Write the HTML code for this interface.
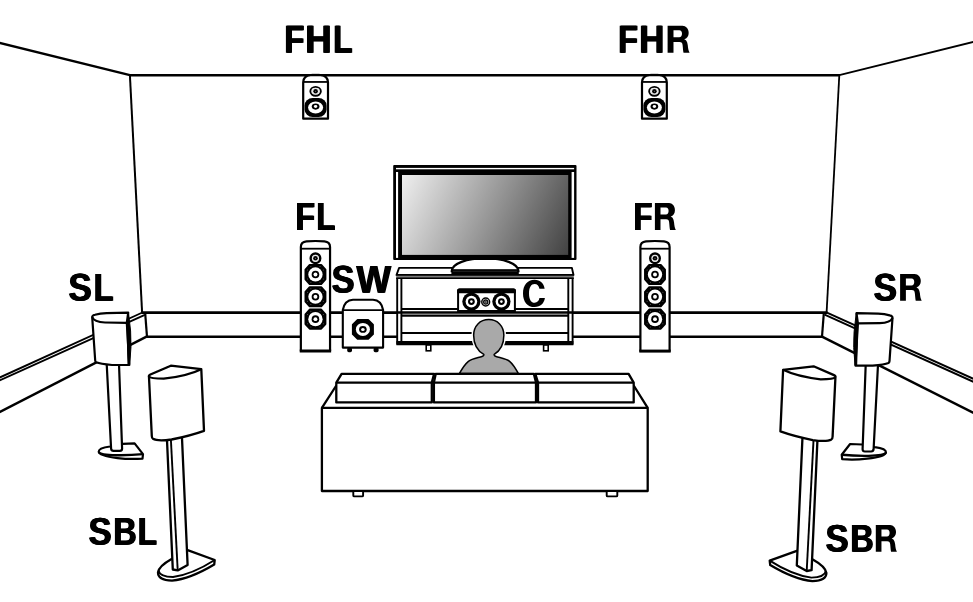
<!DOCTYPE html>
<html>
<head>
<meta charset="utf-8">
<title>Speaker layout</title>
<style>
html,body{margin:0;padding:0;background:#fff;}
body{width:973px;height:602px;overflow:hidden;}
svg{display:block;}
text{font-family:"Liberation Sans",sans-serif;font-weight:bold;font-size:36.5px;fill:#000;}
</style>
</head>
<body>
<svg width="973" height="602" viewBox="0 0 973 602">
<defs>
  <linearGradient id="scr" gradientUnits="userSpaceOnUse" x1="402" y1="175" x2="576.3" y2="257.7">
    <stop offset="0" stop-color="#efefef"/>
    <stop offset="0.5" stop-color="#969696"/>
    <stop offset="1" stop-color="#3a3a3a"/>
  </linearGradient>
  <!-- tower woofer -->
  <g id="wf">
    <polygon points="-5.74,-9.55 5.74,-9.55 9.95,-4.84 9.95,4.84 5.74,9.55 -5.74,9.55 -9.95,4.84 -9.95,-4.84" fill="#000" stroke="#000" stroke-width="2" stroke-linejoin="round"/>
    <circle cx="7.88" cy="4.55" r="0.5" fill="#6a6a6a"/><circle cx="4.55" cy="7.88" r="0.5" fill="#6a6a6a"/><circle cx="-4.55" cy="7.88" r="0.5" fill="#6a6a6a"/><circle cx="-7.88" cy="4.55" r="0.5" fill="#6a6a6a"/><circle cx="-7.88" cy="-4.55" r="0.5" fill="#6a6a6a"/><circle cx="-4.55" cy="-7.88" r="0.5" fill="#6a6a6a"/><circle cx="4.55" cy="-7.88" r="0.5" fill="#6a6a6a"/><circle cx="7.88" cy="-4.55" r="0.5" fill="#6a6a6a"/>
    <circle r="7.15" fill="#fff"/>
    <circle r="3.8" fill="#000"/>
    <circle r="1.95" fill="#fff"/>
  </g>
  <!-- tower tweeter -->
  <g id="tw">
    <circle r="4.8" fill="#fff" stroke="#000" stroke-width="2.4"/>
    <circle r="3" fill="none" stroke="#c4c4c4" stroke-width="0.5"/>
    <circle r="2.3" fill="#000"/>
    <circle r="0.55" fill="#8a8a8a"/>
  </g>
  <!-- tower speaker: origin at centre-x, top y -->
  <g id="tower">
    <path d="M-14.6,110.6 V6.5 Q-14.6,1.5 -9,1 Q0,0.2 9,1 Q14.6,1.5 14.6,6.5 V110.6 Z" fill="#fff" stroke="#000" stroke-width="2.2" stroke-linejoin="round"/>
    <line x1="-15.7" y1="110.7" x2="15.7" y2="110.7" stroke="#000" stroke-width="3"/>
    <line x1="-14.6" y1="8.3" x2="14.6" y2="8.3" stroke="#000" stroke-width="1.8"/>
    <use href="#tw" x="0" y="17.9"/>
    <use href="#wf" x="0" y="34.05"/>
    <use href="#wf" x="0" y="56.3"/>
    <use href="#wf" x="0" y="78.75"/>
  </g>
  <!-- height speaker: origin at centre-x, y of ceiling line -->
  <g id="hs">
    <path d="M-4,-1.6 H4" stroke="#c9c9c9" stroke-width="1" fill="none"/>
    <path d="M-12.4,43.4 V7 Q-12.2,0.4 -5,-0.2 H5 Q12.2,0.4 12.4,7 V43.4 Z" fill="#fff" stroke="#000" stroke-width="2.2" stroke-linejoin="round"/>
    <line x1="-12.4" y1="6.65" x2="12.4" y2="6.65" stroke="#000" stroke-width="1.8"/>
    <ellipse cx="0" cy="16" rx="5.25" ry="4.4" fill="#fff" stroke="#000" stroke-width="1.9"/>
    <ellipse cx="0" cy="16" rx="3.3" ry="2.95" fill="none" stroke="#c4c4c4" stroke-width="0.5"/>
    <ellipse cx="0" cy="16" rx="2.3" ry="2.2" fill="#000"/>
    <circle cx="0" cy="16" r="0.5" fill="#8a8a8a"/>
    <rect x="-11" y="22.7" width="22" height="18.9" rx="8" ry="7.4" fill="#000"/>
    <ellipse cx="0" cy="32.2" rx="7.5" ry="6" fill="#fff"/>
    <ellipse cx="0" cy="31.3" rx="3.85" ry="3.05" fill="#000"/>
    <ellipse cx="0" cy="31.2" rx="1.7" ry="1.4" fill="#fff"/>
  </g>
</defs>

<rect width="973" height="602" fill="#fff"/>

<!-- ROOM -->
<g fill="none" stroke="#000" stroke-linecap="butt" stroke-linejoin="miter">
  <path d="M-2,42.5 L129.9,75.2" stroke-width="2.3"/>
  <path d="M129,75.3 H840" stroke-width="2.5"/>
  <path d="M839.3,75.2 L975,41.4" stroke-width="1.9"/>
  <path d="M129.9,75.2 L142.1,312.5" stroke-width="2"/>
  <path d="M839.3,75.2 L826.6,312.5" stroke-width="1.8"/>
  <!-- back baseboard -->
  <path d="M141.4,312.6 H827.4" stroke-width="2.7"/>
  <path d="M146.6,336.7 H822.6" stroke-width="2.4"/>
  <path d="M145.2,313.4 L147,336.8" stroke-width="2.2"/>
  <path d="M823.8,313.4 L822,336.8" stroke-width="2.2"/>
  <!-- side baseboards -->
  <path d="M147,336.4 L-2,413" stroke-width="2.4"/>
  <path d="M822,336.6 L975,413.6" stroke-width="2.4"/>
  <path d="M142.4,312.5 L-2,378.3" stroke-width="1.9"/>
  <path d="M144.8,314.9 L-2,381.2" stroke-width="1.9"/>
  <path d="M826.4,312.3 L975,379.5" stroke-width="1.9"/>
  <path d="M824.6,314.6 L975,382.5" stroke-width="1.9"/>
</g>

<!-- HEIGHT SPEAKERS -->
<use href="#hs" x="315.6" y="75.3"/>
<use href="#hs" x="654.4" y="75.3"/>

<!-- CABINET -->
<g fill="none" stroke="#000">
  <rect x="397" y="276" width="175.6" height="68" fill="#fff" stroke="none"/>
  <path d="M399.1,267.9 H571.9 L573.5,275 H396.5 Z" fill="#fff" stroke-width="1.9" stroke-linejoin="round"/>
  <path d="M396.2,276.55 H573.8" stroke="#7a7a7a" stroke-width="1.4"/>
  <path d="M396.2,278.1 H573.8" stroke-width="1.8"/>
  <path d="M397.2,278 V344.6 M401.4,278 V344.6" stroke-width="1.9"/>
  <path d="M572.6,278 V344.6 M568.3,278 V344.6" stroke-width="1.9"/>
  <path d="M401.4,309 H568.3" stroke-width="2"/>
  <path d="M397.2,312.5 H572.6" stroke-width="2.3"/>
  <path d="M401.4,315.6 H568.3" stroke-width="2.2"/>
  <path d="M401.4,333.1 H568.3" stroke-width="2"/>
  <path d="M396.4,343.1 H573.4" stroke-width="4.2"/>
  <rect x="426.2" y="345" width="4.6" height="5.8" fill="#fff" stroke-width="1.6"/>
  <rect x="543.6" y="345" width="4.6" height="5.8" fill="#fff" stroke-width="1.6"/>
</g>

<!-- TV STAND -->
<g>
  <path d="M451.8,271 A33.3,12.9 0 0 1 518.4,271 Z" fill="#fff" stroke="#000" stroke-width="2.3"/>
  <rect x="451.4" y="269.2" width="67.4" height="5.9" rx="1.2" fill="#000"/>
  <rect x="453" y="270.9" width="64" height="0.5" fill="#4a4a4a"/>
</g>

<!-- TV -->
<g>
  <rect x="393.2" y="165" width="183.3" height="95.1" rx="1" fill="#000"/>
  <rect x="396" y="167.9" width="178.1" height="1.4" fill="#fff"/>
  <rect x="396" y="172" width="2.1" height="85.9" fill="#fff"/>
  <rect x="571.6" y="172" width="2.5" height="85.9" fill="#fff"/>
  <rect x="402" y="175" width="166.2" height="79.9" fill="url(#scr)"/>
</g>

<!-- CENTER SPEAKER -->
<g>
  <path d="M458.1,311 V291 Q458.1,289.6 459.6,289.6 H513.4 Q514.9,289.6 514.9,291 V311 Z" fill="#fff" stroke="#000" stroke-width="2"/>
  <path d="M457.1,293.2 V290.6 Q457.1,288.6 459.1,288.6 H513.9 Q515.9,288.6 515.9,290.6 V293.2 Z" fill="#000"/>
  <g transform="translate(471.4,301.6)"><circle r="9.1" fill="#000"/><circle r="5.8" fill="#fff"/><circle r="3.4" fill="#000"/><circle r="1.3" fill="#fff"/></g>
  <g transform="translate(501.4,301.6)"><circle r="9.1" fill="#000"/><circle r="5.8" fill="#fff"/><circle r="3.4" fill="#000"/><circle r="1.3" fill="#fff"/></g>
  <g transform="translate(485.7,302)"><circle r="3.9" fill="#fff" stroke="#000" stroke-width="1.5"/><circle r="2.1" fill="#8a8a8a" stroke="#000" stroke-width="1.1"/><rect x="-0.8" y="-0.8" width="1.6" height="1.6" fill="#444"/></g>
</g>

<!-- FRONT TOWERS -->
<use href="#tower" x="315.45" y="240.4"/>
<use href="#tower" x="655" y="240.4"/>

<!-- SUBWOOFER -->
<g>
  <path d="M342.8,347.6 V310 Q344.6,300.2 353,299.8 H373 Q381.3,300.2 383.1,310 V347.6 Z" fill="#fff" stroke="#000" stroke-width="2.1" stroke-linejoin="round"/>
  <line x1="342.8" y1="310.1" x2="383.1" y2="310.1" stroke="#000" stroke-width="1.9"/>
  <rect x="347.2" y="347.4" width="4.8" height="4.8" rx="1.6" fill="#000"/>
  <rect x="373.6" y="347.4" width="5" height="4.8" rx="1.6" fill="#000"/>
  <g transform="translate(362.9,329.4)">
    <polygon points="-5.19,-9.35 5.19,-9.35 10.00,-4.74 10.00,4.74 5.19,9.35 -5.19,9.35 -10.00,4.74 -10.00,-4.74" fill="#000" stroke="#000" stroke-width="2" stroke-linejoin="round"/>
    <ellipse rx="7.05" ry="6.5" fill="#fff"/>
    <ellipse rx="3.8" ry="3.35" fill="#000"/>
    <ellipse rx="1.8" ry="1.5" fill="#fff"/>
  </g>
</g>

<!-- PERSON -->
<g>
  <path d="M459.3,373.6 C461.6,369.5 464.4,364.6 468.4,361.3 C472,358.6 478,357.8 482,356.5 Q484.2,355.8 483.8,354.4 C477,350.5 473.65,343 473.65,335.2 C473.65,326 480,319.55 488.75,319.55 C497.5,319.55 503.85,326 503.85,335.2 C503.85,343 500.5,350.5 494.2,354.4 Q493.8,355.8 496,356.5 C500,357.8 506,358.6 509.6,361.3 C513.6,364.6 516.2,369.5 518.4,373.6 Z" fill="#a9a9a9" stroke="#fff" stroke-width="4.3" stroke-linejoin="round"/>
  <path d="M459.3,373.6 C461.6,369.5 464.4,364.6 468.4,361.3 C472,358.6 478,357.8 482,356.5 Q484.2,355.8 483.8,354.4 C477,350.5 473.65,343 473.65,335.2 C473.65,326 480,319.55 488.75,319.55 C497.5,319.55 503.85,326 503.85,335.2 C503.85,343 500.5,350.5 494.2,354.4 Q493.8,355.8 496,356.5 C500,357.8 506,358.6 509.6,361.3 C513.6,364.6 516.2,369.5 518.4,373.6 Z" fill="#a9a9a9" stroke="#000" stroke-width="1.5" stroke-linejoin="round"/>
</g>

<!-- SOFA -->
<g fill="#fff" stroke="#000" stroke-width="2.3" stroke-linejoin="round">
  <path d="M321.9,407.9 L336.3,385.5 M647.7,407.9 L633.7,385.5" fill="none"/>
  <path d="M336.3,382.6 L341.6,373.9 H434.1 L431.8,382.6 V402.4 H336.3 Z"/>
  <path d="M633.7,382.6 L628.6,373.9 H535.3 L538,382.6 V402.4 H633.7 Z"/>
  <path d="M433.9,382.6 L435.7,373.9 H533.9 L536,382.6 V402.4 H433.9 Z"/>
  <path d="M336.3,382.6 H633.7" fill="none"/>
  <rect x="321.9" y="407.9" width="325.8" height="83.1"/>
  <rect x="353.3" y="491" width="9.8" height="5.4" rx="1" stroke-width="1.9"/>
  <rect x="606.7" y="491" width="10.6" height="5.4" rx="1" stroke-width="1.9"/>
</g>

<!-- SL -->
<g stroke="#000" stroke-width="2.2" stroke-linejoin="round" fill="#fff">
  <path d="M110,446.5 L122.5,443.9 L134.6,443.4 L143,454.1 L142.5,458.6 Q130,459.5 117.6,458.1 C108,457 98.9,455 98.7,451.8 C98.6,449 103.5,447.3 110,446.5 Z"/>
  <path d="M98.9,452.3 C101,454.2 110,455.3 120.4,455.3 Q132,455.2 143,454.1" fill="none" stroke-width="2.4"/>
  <path d="M106.7,364 L111.1,448.6 Q111.3,450.8 113.6,450.9 H119.8 Q122,450.8 122.1,448.6 L119,364 Z"/>
  <path d="M92.2,317.2 Q92,315.6 95,314.8 Q100,313.3 106.6,313.1 L128.2,312.6 L126.8,322.8 L129.3,365 L112,365 Q100,364 96.3,362.3 Q95.3,361.8 95.2,360.5 Z"/>
  <path d="M92.2,317.2 C93.5,320.5 98.5,322.3 105,322.5 L126.8,322.8" fill="none"/>
  <path d="M128.5,312.8 L126.9,322.8 L128,364.6 L129.7,364.6 Q131.8,346 130.6,331 Z" fill="#000" stroke-width="1"/>
</g>

<!-- SR -->
<g stroke="#000" stroke-width="2.2" stroke-linejoin="round" fill="#fff" transform="translate(984.7,0.6) scale(-1,1)">
  <path d="M110,446.5 L122.5,443.9 L134.6,443.4 L143,454.1 L142.5,458.6 Q130,459.5 117.6,458.1 C108,457 98.9,455 98.7,451.8 C98.6,449 103.5,447.3 110,446.5 Z"/>
  <path d="M98.9,452.3 C101,454.2 110,455.3 120.4,455.3 Q132,455.2 143,454.1" fill="none" stroke-width="2.4"/>
  <path d="M106.7,364 L111.1,448.6 Q111.3,450.8 113.6,450.9 H119.8 Q122,450.8 122.1,448.6 L119,364 Z"/>
  <path d="M92.2,317.2 Q92,315.6 95,314.8 Q100,313.3 106.6,313.1 L128.2,312.6 L126.8,322.8 L129.3,365 L112,365 Q100,364 96.3,362.3 Q95.3,361.8 95.2,360.5 Z"/>
  <path d="M92.2,317.2 C93.5,320.5 98.5,322.3 105,322.5 L126.8,322.8" fill="none"/>
  <path d="M128.5,312.8 L126.9,322.8 L128,364.6 L129.7,364.6 Q131.8,346 130.6,331 Z" fill="#000" stroke-width="1"/>
</g>

<!-- SBL -->
<g stroke="#000" stroke-width="2.3" stroke-linejoin="round" fill="#fff">
  <path d="M158,572.4 Q159,566 171.2,559.2 L187.6,550.2 L214.7,560 L214.2,564.5 Q190,579 172,580.6 Q158,580 158,572.4 Z"/>
  <path d="M158.4,570.5 Q160,577 173,577 Q192,574.5 214.7,560" fill="none" stroke-width="1.9"/>
  <path d="M166.9,438 L172.8,569.5 L177.7,570.4 L187.6,565 L181.9,436 Z"/>
  <path d="M170.8,438 L177.7,570.4" fill="none" stroke-width="1.9"/>
  <path d="M149,377.2 Q148.4,375.4 150.4,374.5 L170.8,365.7 L201.3,369.2 L204,430.8 Q190.6,435.6 171.6,439.5 Q157.4,441.5 153,438.8 Q151.8,438 151.8,436 Z"/>
  <path d="M149,376.6 Q150.5,378.6 163.7,378.7 Q187.4,376 201.3,369.2" fill="none"/>
</g>

<!-- SBR -->
<g stroke="#000" stroke-width="2.3" stroke-linejoin="round" fill="#fff" transform="translate(984.4,0.6) scale(-1,1)">
  <path d="M158,572.4 Q159,566 171.2,559.2 L187.6,550.2 L214.7,560 L214.2,564.5 Q190,579 172,580.6 Q158,580 158,572.4 Z"/>
  <path d="M158.4,570.5 Q160,577 173,577 Q192,574.5 214.7,560" fill="none" stroke-width="1.9"/>
  <path d="M166.9,438 L172.8,569.5 L177.7,570.4 L187.6,565 L181.9,436 Z"/>
  <path d="M170.8,438 L177.7,570.4" fill="none" stroke-width="1.9"/>
  <path d="M149,377.2 Q148.4,375.4 150.4,374.5 L170.8,365.7 L201.3,369.2 L204,430.8 Q190.6,435.6 171.6,439.5 Q157.4,441.5 153,438.8 Q151.8,438 151.8,436 Z"/>
  <path d="M149,376.6 Q150.5,378.6 163.7,378.7 Q187.4,376 201.3,369.2" fill="none"/>
</g>

<!-- LABELS -->
<defs>
<path id="gF" d="M432 1181V745H1153V517H432V0H137V1409H1176V1181Z"/>
<path id="gH" d="M1046 0V604H432V0H137V1409H432V848H1046V1409H1341V0Z"/>
<path id="gL" d="M137 0V1409H432V228H1188V0Z"/>
<path id="gS" d="M1286 406Q1286 199 1132.5 89.5Q979 -20 682 -20Q411 -20 257.0 76.0Q103 172 59 367L344 414Q373 302 457.0 251.5Q541 201 690 201Q999 201 999 389Q999 449 963.5 488.0Q928 527 863.5 553.0Q799 579 616 616Q458 653 396.0 675.5Q334 698 284.0 728.5Q234 759 199.0 802.0Q164 845 144.5 903.0Q125 961 125 1036Q125 1227 268.5 1328.5Q412 1430 686 1430Q948 1430 1079.5 1348.0Q1211 1266 1249 1077L963 1038Q941 1129 873.5 1175.0Q806 1221 680 1221Q412 1221 412 1053Q412 998 440.5 963.0Q469 928 525.0 903.5Q581 879 752 842Q955 799 1042.5 762.5Q1130 726 1181.0 677.5Q1232 629 1259.0 561.5Q1286 494 1286 406Z"/>
<path id="gW" d="M1567 0H1217L1026 815Q991 959 967 1116Q943 985 928.0 916.5Q913 848 715 0H365L2 1409H301L505 499L551 279Q579 418 605.5 544.5Q632 671 805 1409H1135L1313 659Q1334 575 1384 279L1409 395L1462 625L1632 1409H1931Z"/>
<path id="gB" d="M1386 402Q1386 210 1242.0 105.0Q1098 0 842 0H137V1409H782Q1040 1409 1172.5 1319.5Q1305 1230 1305 1055Q1305 935 1238.5 852.5Q1172 770 1036 741Q1207 721 1296.5 633.5Q1386 546 1386 402ZM1008 1015Q1008 1110 947.5 1150.0Q887 1190 768 1190H432V841H770Q895 841 951.5 884.5Q1008 928 1008 1015ZM1090 425Q1090 623 806 623H432V219H817Q959 219 1024.5 270.5Q1090 322 1090 425Z"/>
<path id="gC" d="M395,165 L300,165 C290,115 260,80 212,80 C150,80 110,140 110,250 C110,360 150,420 212,420 C262,420 292,385 300,335 L400,335 C385,430 320,500 212,500 C80,500 0,400 0,250 C0,100 80,0 212,0 C315,0 380,65 395,165 Z"/>
<path id="gR" fill-rule="evenodd" d="M0,0 H245 C300,0 347,50 347,122 C347,175 320,215 272,232 C305,245 322,262 332,332 C336,380 342,420 362,460 H262 C255,430 252,380 247,332 C243,295 232,277 195,277 H97 V460 H0 Z M97,77 V197 H190 C222,197 237,170 237,137 C237,100 222,77 192,77 Z"/>
</defs>
<g id="labels" fill="#000">
<use href="#gF" transform="matrix(0.01598,0,0,-0.01909,283.71,52.70)"/>
<use href="#gF" transform="matrix(0.01598,0,0,-0.01909,284.41,52.70)"/>
<use href="#gF" transform="matrix(0.01598,0,0,-0.01909,285.11,52.70)"/>
<use href="#gH" transform="matrix(0.01786,0,0,-0.01909,304.55,52.70)"/>
<use href="#gH" transform="matrix(0.01786,0,0,-0.01909,305.25,52.70)"/>
<use href="#gH" transform="matrix(0.01786,0,0,-0.01909,305.95,52.70)"/>
<use href="#gL" transform="matrix(0.01532,0,0,-0.01909,332.60,52.70)"/>
<use href="#gL" transform="matrix(0.01532,0,0,-0.01909,333.30,52.70)"/>
<use href="#gL" transform="matrix(0.01532,0,0,-0.01909,334.00,52.70)"/>
<use href="#gF" transform="matrix(0.01578,0,0,-0.01909,617.54,52.70)"/>
<use href="#gF" transform="matrix(0.01578,0,0,-0.01909,618.24,52.70)"/>
<use href="#gF" transform="matrix(0.01578,0,0,-0.01909,618.94,52.70)"/>
<use href="#gH" transform="matrix(0.01694,0,0,-0.01909,638.58,52.70)"/>
<use href="#gH" transform="matrix(0.01694,0,0,-0.01909,639.28,52.70)"/>
<use href="#gH" transform="matrix(0.01694,0,0,-0.01909,639.98,52.70)"/>
<use href="#gR" transform="matrix(0.06077,0,0,0.05848,667.60,25.80)"/>
<use href="#gF" transform="matrix(0.01550,0,0,-0.01909,294.88,229.90)"/>
<use href="#gF" transform="matrix(0.01550,0,0,-0.01909,295.58,229.90)"/>
<use href="#gF" transform="matrix(0.01550,0,0,-0.01909,296.28,229.90)"/>
<use href="#gL" transform="matrix(0.01494,0,0,-0.01909,315.85,229.90)"/>
<use href="#gL" transform="matrix(0.01494,0,0,-0.01909,316.55,229.90)"/>
<use href="#gL" transform="matrix(0.01494,0,0,-0.01909,317.25,229.90)"/>
<use href="#gF" transform="matrix(0.01492,0,0,-0.01909,632.96,229.90)"/>
<use href="#gF" transform="matrix(0.01492,0,0,-0.01909,633.66,229.90)"/>
<use href="#gF" transform="matrix(0.01492,0,0,-0.01909,634.36,229.90)"/>
<use href="#gR" transform="matrix(0.05773,0,0,0.05848,654.90,203.00)"/>
<use href="#gS" transform="matrix(0.01671,0,0,-0.01890,331.01,292.62)"/>
<use href="#gS" transform="matrix(0.01671,0,0,-0.01890,331.71,292.62)"/>
<use href="#gS" transform="matrix(0.01671,0,0,-0.01890,332.41,292.62)"/>
<use href="#gW" transform="matrix(0.01783,0,0,-0.01888,355.86,292.70)"/>
<use href="#gW" transform="matrix(0.01783,0,0,-0.01888,356.56,292.70)"/>
<use href="#gW" transform="matrix(0.01783,0,0,-0.01888,357.26,292.70)"/>
<use href="#gC" transform="matrix(0.05475,0,0,0.05480,523.00,279.70)"/>
<use href="#gS" transform="matrix(0.01703,0,0,-0.01897,67.80,300.72)"/>
<use href="#gS" transform="matrix(0.01703,0,0,-0.01897,68.50,300.72)"/>
<use href="#gS" transform="matrix(0.01703,0,0,-0.01897,69.20,300.72)"/>
<use href="#gL" transform="matrix(0.01579,0,0,-0.01895,93.04,300.70)"/>
<use href="#gL" transform="matrix(0.01579,0,0,-0.01895,93.74,300.70)"/>
<use href="#gL" transform="matrix(0.01579,0,0,-0.01895,94.44,300.70)"/>
<use href="#gS" transform="matrix(0.01711,0,0,-0.01897,872.89,300.72)"/>
<use href="#gS" transform="matrix(0.01711,0,0,-0.01897,873.59,300.72)"/>
<use href="#gS" transform="matrix(0.01711,0,0,-0.01897,874.29,300.72)"/>
<use href="#gR" transform="matrix(0.05967,0,0,0.05804,900.10,274.00)"/>
<use href="#gS" transform="matrix(0.01687,0,0,-0.01890,87.90,544.72)"/>
<use href="#gS" transform="matrix(0.01687,0,0,-0.01890,88.60,544.72)"/>
<use href="#gS" transform="matrix(0.01687,0,0,-0.01890,89.30,544.72)"/>
<use href="#gB" transform="matrix(0.01569,0,0,-0.01902,112.75,544.80)"/>
<use href="#gB" transform="matrix(0.01569,0,0,-0.01902,113.45,544.80)"/>
<use href="#gB" transform="matrix(0.01569,0,0,-0.01902,114.15,544.80)"/>
<use href="#gL" transform="matrix(0.01532,0,0,-0.01902,137.10,544.80)"/>
<use href="#gL" transform="matrix(0.01532,0,0,-0.01902,137.80,544.80)"/>
<use href="#gL" transform="matrix(0.01532,0,0,-0.01902,138.50,544.80)"/>
<use href="#gS" transform="matrix(0.01687,0,0,-0.01890,824.90,551.72)"/>
<use href="#gS" transform="matrix(0.01687,0,0,-0.01890,825.60,551.72)"/>
<use href="#gS" transform="matrix(0.01687,0,0,-0.01890,826.30,551.72)"/>
<use href="#gB" transform="matrix(0.01569,0,0,-0.01902,849.75,551.80)"/>
<use href="#gB" transform="matrix(0.01569,0,0,-0.01902,850.45,551.80)"/>
<use href="#gB" transform="matrix(0.01569,0,0,-0.01902,851.15,551.80)"/>
<use href="#gR" transform="matrix(0.05829,0,0,0.05826,875.80,525.00)"/>
</g>
<!-- /LABELS -->
</svg>
</body>
</html>
